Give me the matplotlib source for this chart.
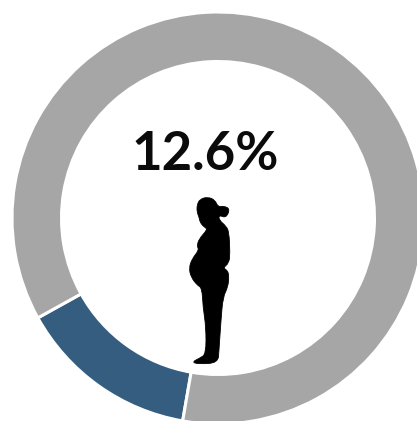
import matplotlib
matplotlib.use("Agg")
import matplotlib.pyplot as plt
from matplotlib.patches import PathPatch
from matplotlib.path import Path

label = "12.6%"
slice_shares = [14.2, 85.8]
slice_colors = ["#355d7f", "#a6a6a6"]
# silhouette outline, reference pixels
figure_x = [208,200,197,197,199,200,203,206,207,199,197,199,192,189,191,197,202,203,206,206,200,192,198,218,219,221,223,228,229,227,223,229,230,229,226,219,219,226,230,224,218,215]
figure_y = [197,199,205,212,217,222,226,228,230,239,246,250,259,268,277,285,288,307,327,354,358,362,364,363,350,320,297,287,275,270,268,263,253,232,226,220,215,218,209,206,207,200]

W, H = 417, 421
fig = plt.figure(figsize=(W/100, H/100), dpi=100)
ax = fig.add_axes([0, 0, 1, 1])
ax.pie(slice_shares, colors=slice_colors, startangle=209, counterclock=True,
       radius=206, center=(218, H-218),
       wedgeprops=dict(width=49.5, edgecolor="white", linewidth=2.2))
ax.set_xlim(0, W)
ax.set_ylim(0, H)
ax.set_aspect("equal")
ax.axis("off")
ax.text(205, H-155, label, ha="center", va="center", fontsize=38, color="#0b0b0b",
        family="Lato", fontweight="bold")

# smooth closed outline: the listed points are control points of quadratic curves
pts = list(zip(figure_x, [H-y for y in figure_y]))
n = len(pts)
mid = lambda a, b: ((a[0]+b[0])/2, (a[1]+b[1])/2)
verts = [mid(pts[-1], pts[0])]
codes = [Path.MOVETO]
for i in range(n):
    verts += [pts[i], mid(pts[i], pts[(i+1) % n])]
    codes += [Path.CURVE3, Path.CURVE3]
ax.add_patch(PathPatch(Path(verts, codes), facecolor="black", edgecolor="black", linewidth=0.6))
fig.savefig("out.png", dpi=100)
